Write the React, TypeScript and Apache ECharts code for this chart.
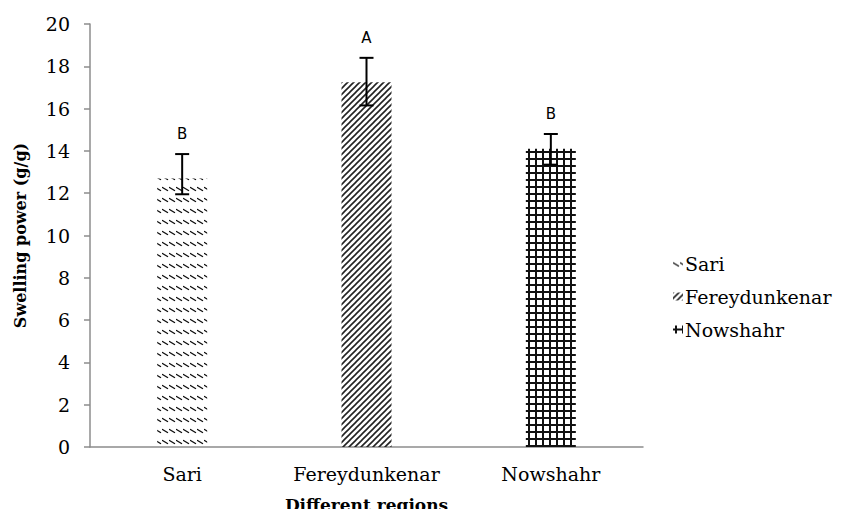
import React, { useEffect, useRef } from "react";
import * as echarts from "echarts";

const categories = ["Sari", "Fereydunkenar", "Nowshahr"];
const means = [12.7, 17.25, 14.1];
const errLow = [11.95, 16.15, 13.35];
const errHigh = [13.85, 18.4, 14.8];
const letters = ["B", "A", "B"];
const yTicks = { min: 0, max: 20, interval: 2 };

type Kind = "wave" | "diag" | "grid";

function makePattern(kind: Kind) {
  const c = document.createElement("canvas");
  const ctx = c.getContext("2d")!;
  if (kind === "wave") {
    c.width = 7;
    c.height = 11;
    ctx.strokeStyle = "#111";
    ctx.lineWidth = 1.4;
    ctx.lineCap = "round";
    ctx.beginPath();
    ctx.moveTo(0.5, 3.5);
    ctx.lineTo(5.5, 6.5);
    ctx.stroke();
  } else if (kind === "diag") {
    c.width = 6;
    c.height = 6;
    ctx.strokeStyle = "#222";
    ctx.lineWidth = 1.6;
    ctx.beginPath();
    ctx.moveTo(-1, 7);
    ctx.lineTo(7, -1);
    ctx.moveTo(-1, 1);
    ctx.lineTo(1, -1);
    ctx.moveTo(5, 7);
    ctx.lineTo(7, 5);
    ctx.stroke();
  } else {
    c.width = 7;
    c.height = 7;
    ctx.fillStyle = "#111";
    ctx.fillRect(2, 0, 2, 7);
    ctx.fillRect(0, 3, 7, 2);
  }
  return { image: c, repeat: "repeat", imageWidth: c.width, imageHeight: c.height } as any;
}

const SERIF = "DejaVu Serif";

export default function App() {
  const ref = useRef<HTMLDivElement>(null);
  useEffect(() => {
    if (!ref.current) return;
    const chart = echarts.init(ref.current, null, { renderer: "svg" });
    const kinds: Kind[] = ["wave", "diag", "grid"];
    const barSeries = categories.map((name, i) => ({
      name,
      type: "bar",
      barWidth: 50,
      barGap: "-100%",
      data: categories.map((_, j) => (j === i ? means[i] : "-")),
      itemStyle: { color: makePattern(kinds[i]) },
    }));
    const errData = categories.map((_, i) => [i, errLow[i], errHigh[i]]);
    const lbl = { fontFamily: SERIF, fontSize: 19, color: "#000" };
    chart.setOption({
      animation: false,
      textStyle: { fontFamily: SERIF },
      grid: { left: 82, right: 210, top: 16, bottom: 62, containLabel: false, outerBoundsMode: "none" },
      legend: {
        orient: "vertical",
        left: 660,
        top: 241,
        itemWidth: 10,
        itemHeight: 8,
        itemGap: 14,
        icon: "rect",
        data: categories,
        textStyle: { ...lbl, padding: [0, 0, 0, -3] },
      },
      xAxis: {
        type: "category",
        data: categories,
        axisLine: { lineStyle: { color: "#8c8c8c", width: 1.5 } },
        axisTick: { show: false },
        axisLabel: { ...lbl, margin: 17, interval: 0, hideOverlap: false },
        name: "Different regions",
        nameLocation: "middle",
        nameGap: 49,
        nameTextStyle: { fontFamily: SERIF, fontSize: 17, fontWeight: "bold", color: "#000" },
      },
      yAxis: {
        type: "value",
        min: yTicks.min,
        max: yTicks.max,
        interval: yTicks.interval,
        splitLine: { show: false },
        axisLine: { show: true, lineStyle: { color: "#8c8c8c", width: 1.5 } },
        axisTick: { show: true, length: 6, lineStyle: { color: "#8c8c8c", width: 1.5 } },
        axisLabel: { ...lbl, margin: 20 },
        name: "Swelling power (g/g)",
        nameLocation: "middle",
        nameGap: 62,
        nameTextStyle: { fontFamily: SERIF, fontSize: 16, fontWeight: "bold", color: "#000" },
      },
      series: [
        ...barSeries,
        {
          type: "custom",
          name: "err",
          data: errData,
          z: 10,
          renderItem: (params: any, api: any) => {
            const idx = api.value(0);
            const lo = api.coord([idx, api.value(1)]);
            const hi = api.coord([idx, api.value(2)]);
            const hw = 7;
            const st = { stroke: "#000", lineWidth: 2 };
            return {
              type: "group",
              children: [
                { type: "line", shape: { x1: hi[0], y1: hi[1], x2: lo[0], y2: lo[1] }, style: st },
                { type: "line", shape: { x1: hi[0] - hw, y1: hi[1], x2: hi[0] + hw, y2: hi[1] }, style: st },
                { type: "line", shape: { x1: lo[0] - hw, y1: lo[1], x2: lo[0] + hw, y2: lo[1] }, style: st },
                {
                  type: "text",
                  style: {
                    x: hi[0],
                    y: hi[1] - 20,
                    text: letters[params.dataIndex],
                    fill: "#000",
                    fontFamily: "DejaVu Sans",
                    fontSize: 15,
                    align: "center",
                    verticalAlign: "middle",
                  },
                },
              ],
            };
          },
        },
      ],
    });
    return () => chart.dispose();
  }, []);
  return <div ref={ref} style={{ width: 845, height: 501 }} />;
}
